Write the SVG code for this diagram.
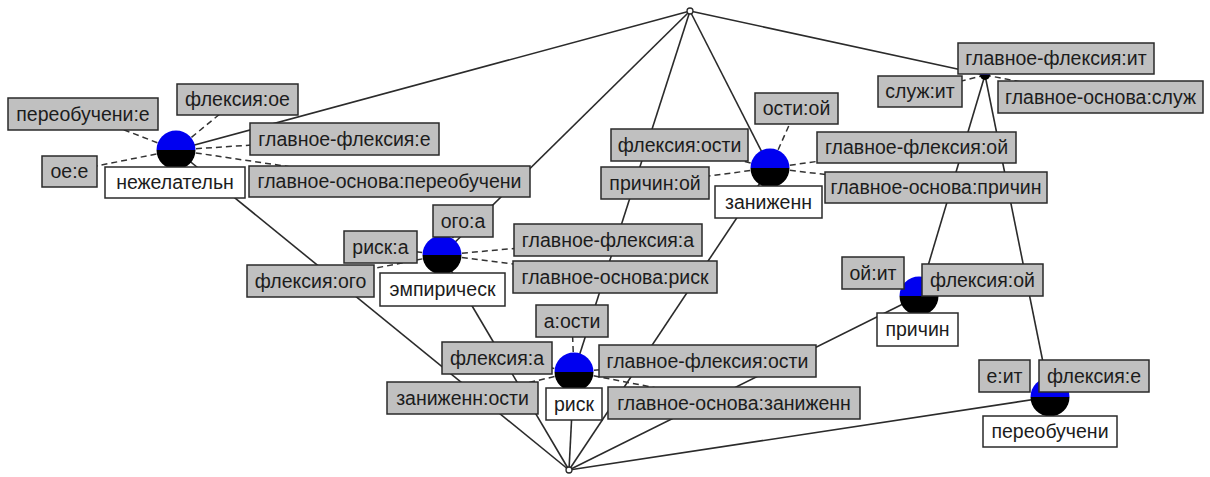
<svg xmlns="http://www.w3.org/2000/svg" width="1210" height="477" viewBox="0 0 1210 477">
  <style>
    .edge { stroke: #2b2b2b; stroke-width: 1.6; fill: none; }
    .link { stroke: #333333; stroke-width: 1.5; stroke-dasharray: 6 4; fill: none; }
    .attr rect { fill: #c0c0c0; stroke: #2a2a2a; stroke-width: 1.5; }
    .obj rect { fill: #ffffff; stroke: #2a2a2a; stroke-width: 1.5; }
    text { font-family: "Liberation Sans", Arial, sans-serif; font-size: 19.5px; fill: #1c1c1c; text-anchor: middle; }
    .end { fill: #ffffff; stroke: #2b2b2b; stroke-width: 1.3; }
  </style>
  <defs>
    <!-- concept node: blue upper half, black lower half -->
    <g id="ball">
      <path d="M-19.5,0 A19.5,19.5 0 0 1 19.5,0 Z" fill="#0000f0"/>
      <path d="M-19.5,0 A19.5,19.5 0 0 0 19.5,0 Z" fill="#000000"/>
    </g>
    <g id="ball-small">
      <path d="M-5,0 A5,5 0 0 1 5,0 Z" fill="#0000f0"/>
      <path d="M-5,0 A5,5 0 0 0 5,0 Z" fill="#000000"/>
    </g>
  </defs>

  <rect width="1210" height="477" fill="#ffffff"/>

  <g id="connectors">
    <!-- lattice edges -->
    <line class="edge" x1="690" y1="11" x2="176" y2="150"/>
    <line class="edge" x1="690" y1="11" x2="442" y2="255"/>
    <line class="edge" x1="690" y1="11" x2="574" y2="372"/>
    <line class="edge" x1="690" y1="11" x2="770" y2="168"/>
    <line class="edge" x1="690" y1="11" x2="985" y2="75"/>
    <line class="edge" x1="985" y1="75" x2="919" y2="296"/>
    <line class="edge" x1="985" y1="75" x2="1050" y2="397"/>
    <line class="edge" x1="176" y1="150" x2="569" y2="470"/>
    <line class="edge" x1="442" y1="255" x2="569" y2="470"/>
    <line class="edge" x1="574" y1="372" x2="569" y2="470"/>
    <line class="edge" x1="770" y1="168" x2="569" y2="470"/>
    <line class="edge" x1="919" y1="296" x2="569" y2="470"/>
    <line class="edge" x1="1050" y1="397" x2="569" y2="470"/>

    <!-- label leader lines -->
    <line class="link" x1="176" y1="150" x2="83" y2="114"/>
    <line class="link" x1="176" y1="150" x2="237.5" y2="99.5"/>
    <line class="link" x1="176" y1="150" x2="344.5" y2="139"/>
    <line class="link" x1="176" y1="150" x2="69.5" y2="171.5"/>
    <line class="link" x1="176" y1="150" x2="389.5" y2="181.5"/>

    <line class="link" x1="770" y1="168" x2="796.5" y2="108.5"/>
    <line class="link" x1="770" y1="168" x2="679.5" y2="145"/>
    <line class="link" x1="770" y1="168" x2="916.5" y2="147.5"/>
    <line class="link" x1="770" y1="168" x2="655" y2="183"/>
    <line class="link" x1="770" y1="168" x2="936" y2="187.5"/>

    <line class="link" x1="985" y1="75" x2="920" y2="91.5"/>
    <line class="link" x1="985" y1="75" x2="1100" y2="97"/>

    <line class="link" x1="442" y1="255" x2="463" y2="221"/>
    <line class="link" x1="442" y1="255" x2="380.5" y2="247"/>
    <line class="link" x1="442" y1="255" x2="608" y2="240"/>
    <line class="link" x1="442" y1="255" x2="310.5" y2="281"/>
    <line class="link" x1="442" y1="255" x2="615" y2="277"/>

    <line class="link" x1="574" y1="372" x2="572" y2="321"/>
    <line class="link" x1="574" y1="372" x2="497" y2="358"/>
    <line class="link" x1="574" y1="372" x2="707.5" y2="361"/>
    <line class="link" x1="574" y1="372" x2="462.5" y2="398"/>
    <line class="link" x1="574" y1="372" x2="734" y2="403"/>
  </g>

  <g id="node-top">
    <circle class="end" cx="690" cy="11" r="3"/>
  </g>

  <g id="node-bottom">
    <circle class="end" cx="569" cy="470" r="3"/>
  </g>

  <g id="node-nezhelateln">
    <use href="#ball" x="176" y="150"/>
    <g class="attr"><rect x="8" y="98" width="150" height="32"/><text x="83" y="120.5">переобучени:е</text></g>
    <g class="attr"><rect x="177" y="84" width="121" height="31"/><text x="237.5" y="106">флексия:ое</text></g>
    <g class="attr"><rect x="250" y="123" width="189" height="32"/><text x="344.5" y="145.5">главное-флексия:е</text></g>
    <g class="attr"><rect x="42" y="156" width="55" height="31"/><text x="69.5" y="178">ое:е</text></g>
    <g class="attr"><rect x="249" y="166" width="281" height="31"/><text x="389.5" y="188">главное-основа:переобучени</text></g>
    <g class="obj"><rect x="105" y="167" width="140" height="31"/><text x="175" y="189">нежелательн</text></g>
  </g>

  <g id="node-zanizhenn">
    <use href="#ball" x="770" y="168"/>
    <g class="attr"><rect x="755" y="93" width="83" height="31"/><text x="796.5" y="115">ости:ой</text></g>
    <g class="attr"><rect x="611" y="129" width="137" height="32"/><text x="679.5" y="151.5">флексия:ости</text></g>
    <g class="attr"><rect x="817" y="132" width="199" height="31"/><text x="916.5" y="154">главное-флексия:ой</text></g>
    <g class="attr"><rect x="601" y="167" width="108" height="32"/><text x="655" y="189.5">причин:ой</text></g>
    <g class="attr"><rect x="825" y="172" width="222" height="31"/><text x="936" y="194">главное-основа:причин</text></g>
    <g class="obj"><rect x="715" y="186" width="107" height="32"/><text x="768.5" y="208.5">заниженн</text></g>
  </g>

  <g id="node-sluzh">
    <use href="#ball-small" x="985" y="75"/>
    <g class="attr"><rect x="958" y="43" width="196" height="31"/><text x="1056" y="65">главное-флексия:ит</text></g>
    <g class="attr"><rect x="878" y="76" width="84" height="31"/><text x="920" y="98">служ:ит</text></g>
    <g class="attr"><rect x="998" y="81" width="205" height="32"/><text x="1100.5" y="103.5">главное-основа:служ</text></g>
  </g>

  <g id="node-empiricheskii">
    <use href="#ball" x="442" y="255"/>
    <g class="attr"><rect x="433" y="205" width="60" height="32"/><text x="463" y="227.5">ого:а</text></g>
    <g class="attr"><rect x="344" y="231" width="73" height="32"/><text x="380.5" y="253.5">риск:а</text></g>
    <g class="attr"><rect x="514" y="224" width="188" height="32"/><text x="608" y="246.5">главное-флексия:а</text></g>
    <g class="attr"><rect x="247" y="265" width="127" height="32"/><text x="310.5" y="287.5">флексия:ого</text></g>
    <g class="attr"><rect x="513" y="261" width="204" height="32"/><text x="615" y="283.5">главное-основа:риск</text></g>
    <g class="obj"><rect x="380" y="273" width="125" height="33"/><text x="442.5" y="296">эмпирическ</text></g>
  </g>

  <g id="node-risk">
    <use href="#ball" x="574" y="372"/>
    <g class="attr"><rect x="536" y="305" width="72" height="32"/><text x="572" y="327.5">а:ости</text></g>
    <g class="attr"><rect x="442" y="342" width="110" height="32"/><text x="497" y="364.5">флексия:а</text></g>
    <g class="attr"><rect x="599" y="345" width="217" height="32"/><text x="707.5" y="367.5">главное-флексия:ости</text></g>
    <g class="attr"><rect x="387" y="382" width="151" height="32"/><text x="462.5" y="404.5">заниженн:ости</text></g>
    <g class="attr"><rect x="608" y="387" width="252" height="32"/><text x="734" y="409.5">главное-основа:заниженн</text></g>
    <g class="obj"><rect x="546" y="388" width="56" height="32"/><text x="574" y="410.5">риск</text></g>
  </g>

  <g id="node-prichin">
    <use href="#ball" x="919" y="296"/>
    <g class="attr"><rect x="842" y="257" width="62" height="32"/><text x="873" y="279.5">ой:ит</text></g>
    <g class="attr"><rect x="922" y="264" width="121" height="32"/><text x="982.5" y="286.5">флексия:ой</text></g>
    <g class="obj"><rect x="877" y="313" width="81" height="33"/><text x="917.5" y="336">причин</text></g>
  </g>

  <g id="node-pereobucheni">
    <use href="#ball" x="1050" y="397"/>
    <g class="attr"><rect x="979" y="360" width="51" height="32"/><text x="1004.5" y="382.5">е:ит</text></g>
    <g class="attr"><rect x="1039" y="360" width="110" height="32"/><text x="1094" y="382.5">флексия:е</text></g>
    <g class="obj"><rect x="983" y="416" width="134" height="31"/><text x="1050" y="438">переобучени</text></g>
  </g>
</svg>
